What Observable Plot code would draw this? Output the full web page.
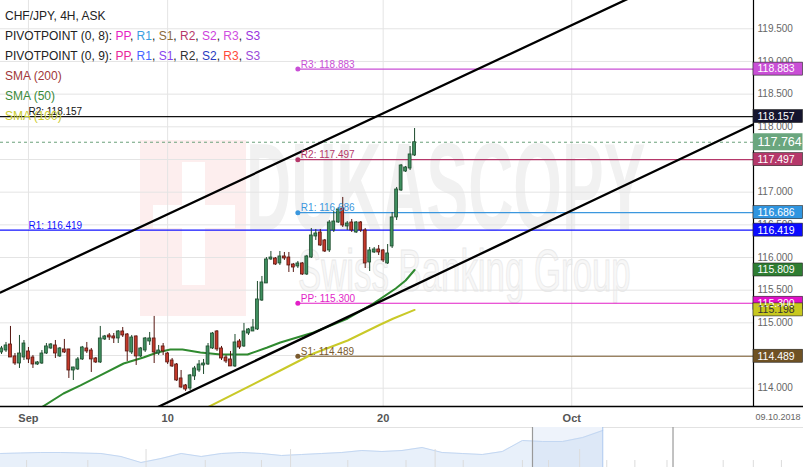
<!DOCTYPE html>
<html><head><meta charset="utf-8">
<script src="https://cdn.jsdelivr.net/npm/d3@7"></script>
<script src="https://cdn.jsdelivr.net/npm/@observablehq/plot@0.6"></script>
<style>
body{margin:0;background:#fff;}
#wrap{position:relative;width:803px;height:467px;overflow:hidden;font-family:"Liberation Sans",Arial,sans-serif;background:#fff;}
.wm{position:absolute;}
#main{position:absolute;left:0;top:0;}
#nav{position:absolute;left:0;top:427px;}
#legend{position:absolute;left:5px;top:6px;font-size:12px;line-height:20px;color:#222;white-space:nowrap;}
#date{position:absolute;left:753px;width:50px;top:412px;text-align:center;font-size:9px;color:#666;}
</style></head>
<body>
<div id="wrap">
  <div class="wm" style="left:140px;top:140px;width:106px;height:176px;background:#fdeeee;"></div>
  <div class="wm" style="left:182px;top:162px;width:23px;height:123px;background:#fff;"></div>
  <div class="wm" style="left:153px;top:205px;width:82px;height:23px;background:#fff;"></div>
  <div class="wm" style="left:246px;top:118px;font-size:125px;font-weight:bold;color:#f1f1f1;transform:scaleX(0.5);transform-origin:0 0;line-height:1.1;">DUKASCOPY</div>
  <div class="wm" style="left:298px;top:238px;font-size:60px;color:#f7f7f7;-webkit-text-stroke:1px #e9e9e9;transform:scaleX(0.58);transform-origin:0 0;line-height:1.1;white-space:nowrap;">Swiss Banking Group</div>
  <div id="main"></div>
  <div id="nav"></div>
  <div id="legend">
    <div>CHF/JPY, 4H, ASK</div>
    <div>PIVOTPOINT (0, 8): <span style="color:#e61fc4">PP</span>, <span style="color:#3a9ee0">R1</span>, <span style="color:#8a6a3a">S1</span>, <span style="color:#b5386a">R2</span>, <span style="color:#cc3fdd">S2</span>, <span style="color:#d04fe0">R3</span>, <span style="color:#9933dd">S3</span></div>
    <div>PIVOTPOINT (0, 9): <span style="color:#e8289b">PP</span>, <span style="color:#4466ff">R1</span>, <span style="color:#8844ee">S1</span>, <span style="color:#333">R2</span>, <span style="color:#2a3ac0">S2</span>, <span style="color:#ff4a3a">R3</span>, <span style="color:#9a4ad8">S3</span></div>
    <div style="color:#a03838">SMA (200)</div>
    <div style="color:#3a8a3a">SMA (50)</div>
    <div style="color:#cccc30">SMA (100)</div>
  </div>
  <div id="date">09.10.2018</div>
</div>
<script>
// ---- data (4H candles, CHF/JPY ASK) ----
const open = [114.547,114.577,114.669,114.486,114.378,114.470,114.562,114.470,114.363,114.378,
114.531,114.608,114.654,114.486,114.593,114.593,114.271,114.287,114.440,114.608,
114.577,114.455,114.394,114.746,114.807,114.792,114.761,114.868,114.822,114.547,
114.792,114.486,114.577,114.715,114.761,114.531,114.639,114.531,114.424,114.363,
114.149,114.042,113.996,114.180,114.271,114.348,114.363,114.608,114.868,114.608,
114.470,114.440,114.333,114.715,114.639,114.837,114.868,114.899,115.342,115.603,
115.970,115.985,115.909,116.016,116.000,115.893,115.863,115.909,115.740,116.000,
116.322,116.383,116.261,116.108,116.414,116.536,116.750,116.475,116.536,116.383,
116.536,116.414,115.924,116.077,116.123,116.108,115.909,116.169,116.613,117.026,
117.316,117.362,117.561];
const high = [114.639,114.700,114.945,114.531,114.807,114.730,114.623,114.501,114.409,114.577,
114.684,114.684,114.730,114.623,114.746,114.593,114.320,114.470,114.639,114.700,
114.608,114.470,114.945,114.807,114.837,114.837,114.883,114.929,114.837,114.807,
114.800,114.623,114.776,114.853,115.098,114.654,114.684,114.547,114.455,114.378,
114.271,114.057,114.210,114.333,114.424,114.440,114.684,114.853,114.883,114.639,
114.501,114.562,114.822,114.746,114.991,114.914,115.052,115.633,115.710,116.000,
116.092,116.000,116.092,116.077,116.077,115.909,115.939,115.924,116.031,116.444,
116.429,116.429,116.276,116.567,116.704,116.766,116.919,116.551,116.582,116.551,
116.551,116.444,116.153,116.153,116.184,116.123,116.199,116.689,117.072,117.424,
117.393,117.699,117.974];
const low = [114.516,114.547,114.470,114.348,114.302,114.424,114.378,114.302,114.348,114.363,
114.516,114.593,114.455,114.470,114.531,114.149,114.118,114.271,114.424,114.531,
114.241,114.378,114.378,114.730,114.730,114.684,114.684,114.776,114.409,114.516,
114.348,114.470,114.547,114.654,114.378,114.501,114.501,114.363,114.317,114.103,
113.996,113.950,113.965,114.118,114.241,114.210,114.348,114.593,114.562,114.424,
114.378,114.333,114.317,114.593,114.623,114.807,114.868,114.883,115.327,115.603,
115.955,115.878,115.878,115.955,115.771,115.771,115.832,115.725,115.725,115.985,
116.261,116.169,116.077,116.077,116.383,116.521,116.459,116.414,116.383,116.368,
116.383,115.832,115.786,116.062,116.031,115.924,115.893,116.138,116.567,117.010,
117.301,117.332,117.546];
const close = [114.608,114.654,114.470,114.378,114.531,114.684,114.440,114.363,114.394,114.531,
114.639,114.669,114.531,114.608,114.547,114.271,114.317,114.440,114.623,114.562,
114.440,114.394,114.761,114.792,114.776,114.761,114.868,114.807,114.562,114.776,
114.486,114.608,114.761,114.761,114.547,114.577,114.562,114.394,114.333,114.118,
114.011,113.980,114.195,114.302,114.363,114.378,114.639,114.837,114.593,114.455,
114.409,114.333,114.700,114.623,114.868,114.899,114.929,115.358,115.618,115.970,
116.000,115.893,116.016,115.985,115.878,115.847,115.909,115.740,116.016,116.337,
116.368,116.184,116.092,116.536,116.551,116.735,116.490,116.521,116.414,116.536,
116.414,115.909,116.108,116.123,116.077,115.955,116.062,116.613,117.041,117.408,
117.378,117.577,117.764];

// SMA readings (candle index, value)
const sma50Idx = [8.2,13.8,17.6,22.0,27.2,31.6,34.7,37.6,40.3,44.3,48.8,54.8,59.2,62.1,69.5,77.1,82.9,87.8,90.0,92];
const sma50 = [113.675,113.919,114.042,114.195,114.378,114.470,114.547,114.593,114.593,114.547,114.516,114.516,114.623,114.700,114.853,115.067,115.297,115.526,115.648,115.809];
const sma100Idx = [45.4,62.1,69.5,77.1,84.4,87.3,92];
const sma100 = [113.690,114.271,114.531,114.730,114.975,115.067,115.198];

// drawn channel lines (candle index, price)
const upperIdx = [-0.22,146.8], upperPrice = [115.465,120.193];
const lowerIdx = [33.2,168], lowerPrice = [113.659,118.055];

// pivot points
const pivotANames = ["R3","R2","R1","PP","S1"];
const pivotAValues = [118.883,117.497,116.686,115.300,114.489];
const pivotAColors = ["#c94fd6","#b5386a","#3b97de","#e21fc7","#7a5a2e"];
const pivotAStart = 66;
const pivotBNames = ["R2","R1"];
const pivotBValues = [118.157,116.419];
const pivotBColors = ["#111111","#1212ff"];
const pivotBStart = 6;
const lastPrice = 117.764;

// right-axis value boxes
const boxValues = [118.883,118.157,117.497,116.686,116.419,115.809,115.300,115.198,114.489];
const boxColors = ["#c94fd6","#15152e","#b5386a","#2f95e0","#0b0bff","#2e7d32","#e010c8","#c8c81e","#6f5224"];
const boxText   = ["#fff","#fff","#fff","#fff","#fff","#fff","#fff","#333","#fff"];
const lastBoxColor = "#6aa67e";

// axes
const yTicks = [114,114.5,115,115.5,116,116.5,117,117.5,118,118.5,119,119.5];
const xTickIdx = [6,37,85,127];
const xTickLabels = ["Sep","10","20","Oct"];

// navigator
const navigatorLevel = [14,14.5,15,15,14.5,14,11,5,9,14,11,14,15,14,12,13,14,15,17,16,17,20,15,14,13,16,27,26,26,30,37];
const navWindow = [26.5,30];
const navHandles = [26.5,33.5];
const navMajor = [7.25,14.45,21.65,28.85];
const navMinor = [1.3,4.35,10.2,13,17.3,20.2,23.05,26,27.3,30.2,31.6,33.2,36,37.5,38.9];

// ---- build ----
const xDomain = [-0.2227,167.48];
const yDomain = [113.72,119.933];
const candles = open.map((o,i)=>({i,o,h:high[i],l:low[i],c:close[i],up:close[i]>=o}));
const pivA = pivotANames.map((n,k)=>({n,v:pivotAValues[k],col:pivotAColors[k]}));
const pivB = pivotBNames.map((n,k)=>({n,v:pivotBValues[k],col:pivotBColors[k]}));
const boxes = boxValues.map((v,k)=>({v,bg:boxColors[k],fg:boxText[k]}));
const s50 = sma50Idx.map((x,k)=>({x,y:sma50[k]}));
const s100 = sma100Idx.map((x,k)=>({x,y:sma100[k]}));
const up = upperIdx.map((x,k)=>({x,y:upperPrice[k]}));
const lo = lowerIdx.map((x,k)=>({x,y:lowerPrice[k]}));
const GF="#3f8f5f", GS="#1c4a2c", RF="#c4392a", RS="#561610";

const main = Plot.plot({
  width:803, height:427,
  marginLeft:0, marginRight:50, marginTop:0, marginBottom:21,
  style:{background:"transparent", fontFamily:"Liberation Sans, Arial, sans-serif"},
  x:{domain:xDomain, axis:null},
  y:{domain:yDomain, axis:null},
  marks:[
    Plot.ruleY(yTicks,{stroke:"#e4e4e4"}),
    Plot.ruleX(xTickIdx,{stroke:"#e4e4e4"}),
    Plot.ruleY(pivB,{y:"v", stroke:"col", strokeWidth:1.2}),
    Plot.ruleY(pivA,{y:"v", x1:()=>pivotAStart, x2:()=>xDomain[1], stroke:"col", strokeWidth:1.2}),
    Plot.ruleY([lastPrice],{stroke:"#6aa07a", strokeDasharray:"3,3"}),
    Plot.line(s50,{x:"x",y:"y",stroke:"#2f8a2f",strokeWidth:2,clip:true}),
    Plot.line(s100,{x:"x",y:"y",stroke:"#c9c928",strokeWidth:2,clip:true}),
    Plot.line(up,{x:"x",y:"y",stroke:"#000",strokeWidth:2.3,clip:true}),
    Plot.line(lo,{x:"x",y:"y",stroke:"#000",strokeWidth:2.3,clip:true}),
    Plot.ruleX(candles,{x:"i",y1:"l",y2:"h",stroke:d=>d.up?GS:RS,strokeWidth:1}),
    Plot.rect(candles,{x1:d=>d.i-0.32,x2:d=>d.i+0.32,y1:"o",y2:"c",fill:d=>d.up?GF:RF,stroke:d=>d.up?GS:RS,strokeWidth:0.8}),
    Plot.text(pivA,{x:()=>pivotAStart,y:"v",text:d=>`${d.n}: ${d.v.toFixed(3)}`,fill:"col",textAnchor:"start",dx:3,dy:-4.5,fontSize:10}),
    Plot.dot(pivA,{x:()=>pivotAStart,y:"v",fill:"col",r:2.5}),
    Plot.text(pivB,{x:()=>pivotBStart,y:"v",text:d=>`${d.n}: ${d.v.toFixed(3)}`,fill:"col",textAnchor:"start",dx:0,dy:-4.5,fontSize:10}),
    Plot.ruleX([xDomain[1]],{stroke:"#000",strokeWidth:1.2}),
    Plot.ruleY([yDomain[0]],{stroke:"#000",strokeWidth:1.5,insetRight:-50}),
    Plot.axisY(yTicks,{anchor:"right",tickSize:0,tickPadding:4,tickFormat:d=>d.toFixed(3),fontSize:10,color:"#666",label:null}),
    Plot.axisX(xTickIdx,{anchor:"bottom",tickSize:0,tickPadding:8,tickFormat:d=>xTickLabels[xTickIdx.indexOf(d)],fontSize:11,fontWeight:"bold",color:"#555",label:null}),
    Plot.rect(boxes,{x1:()=>xDomain[1],x2:()=>xDomain[1],y1:"v",y2:"v",insetRight:-49.5,insetTop:-6.5,insetBottom:-6.5,fill:"bg",stroke:"#222",strokeWidth:0.6}),
    Plot.text(boxes,{x:()=>xDomain[1],y:"v",text:d=>d.v.toFixed(3),fill:"fg",textAnchor:"start",dx:4,fontSize:10.5}),
    Plot.rect([lastPrice],{x1:()=>xDomain[1],x2:()=>xDomain[1],y1:d=>d,y2:d=>d,insetRight:-49.5,insetTop:-8.5,insetBottom:-8.5,fill:lastBoxColor}),
    Plot.text([lastPrice],{x:()=>xDomain[1],y:d=>d,text:d=>d.toFixed(3),fill:"#fff",textAnchor:"start",dx:4,fontSize:12.5})
  ]
});
document.getElementById("main").appendChild(main);

const navData = navigatorLevel.map((v,i)=>({i,v}));
const nav = Plot.plot({
  width:803, height:40, margin:0,
  style:{background:"transparent"},
  x:{domain:[0,40],axis:null},
  y:{domain:[0,40],axis:null},
  marks:[
    Plot.ruleY([40],{stroke:"#e2e2e2"}),
    Plot.rect([navWindow],{x1:d=>d[0],x2:d=>d[1],y1:0,y2:40,fill:"#eef3fb"}),
    Plot.areaY(navData,{x:"i",y:"v",fill:"rgba(190,212,242,0.35)"}),
    Plot.line(navData,{x:"i",y:"v",stroke:"#c3d7f2",strokeWidth:1}),
    Plot.ruleX(navMajor,{y1:0,y2:18,stroke:"#dcdcdc"}),
    Plot.ruleX(navMinor,{y1:0,y2:7,stroke:"#dcdcdc"}),
    Plot.ruleX([navWindow[1]],{stroke:"#a9c6ee"}),
    Plot.ruleX(navHandles,{stroke:"#999",strokeWidth:1.2})
  ]
});
document.getElementById("nav").appendChild(nav);
</script>
</body></html>
